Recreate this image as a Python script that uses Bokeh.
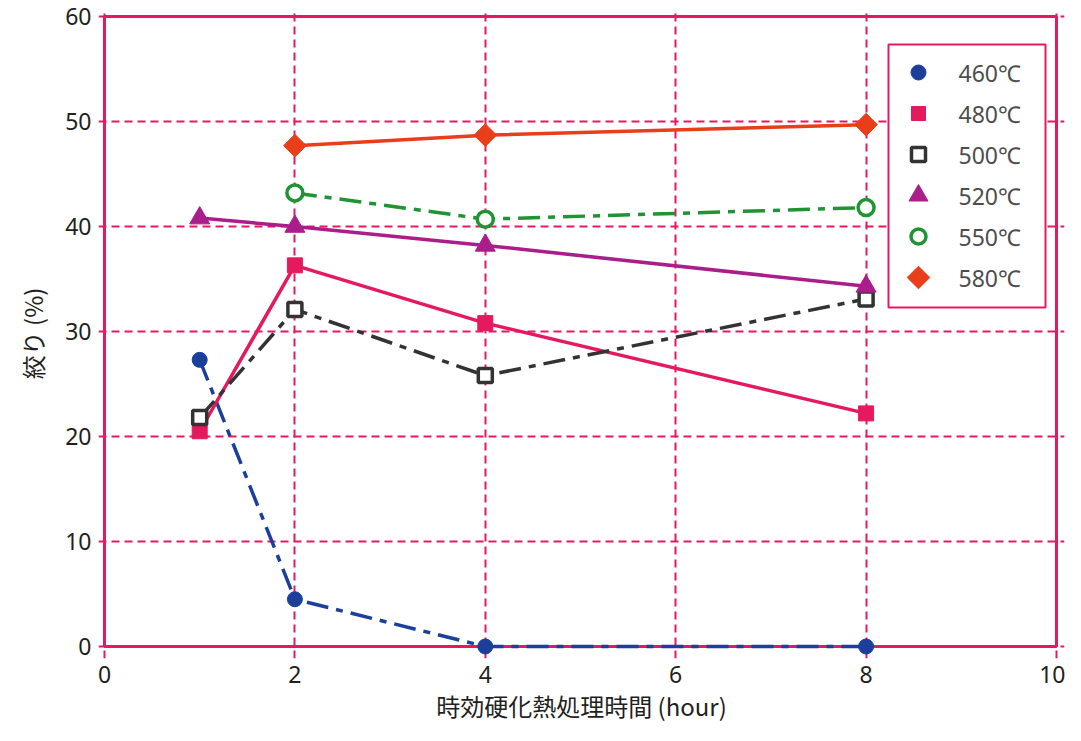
import numpy as np
from bokeh.plotting import figure
from bokeh.models import FixedTicker, Range1d
from bokeh.core.properties import value
from bokeh.embed import file_html
from bokeh.resources import INLINE

# data
series_names = ["460℃", "480℃", "500℃", "520℃", "550℃", "580℃"]
x_460 = [1, 2, 4, 8]
y_460 = [27.3, 4.5, 0.0, 0.0]
x_480 = [1, 2, 4, 8]
y_480 = [20.5, 36.3, 30.8, 22.2]
x_500 = [1, 2, 4, 8]
y_500 = [21.8, 32.1, 25.8, 33.1]
x_520 = [1, 2, 4, 8]
y_520 = [40.8, 40.0, 38.2, 34.3]
x_550 = [2, 4, 8]
y_550 = [43.2, 40.7, 41.8]
x_580 = [2, 4, 8]
y_580 = [47.7, 48.7, 49.7]
x_ticks = [0, 2, 4, 6, 8, 10]
y_ticks = [0, 10, 20, 30, 40, 50, 60]
x_title = "時効硬化熱処理時間 (hour)"
y_title = "絞り (%)"

CRIMSON = "#e5195e"
TXT = "#231f20"

# layout (pixels)
W, H = 1065, 725
BOX_L, BOX_R, BOX_T, BOX_B = 104, 1056, 16, 646
PAD_L, PAD_R, PAD_T, PAD_B = 6, 8, 8, 12
XMIN, XMAX = x_ticks[0], x_ticks[-1]
YMIN, YMAX = y_ticks[0], y_ticks[-1]
sx = (BOX_R - BOX_L) / (XMAX - XMIN)
sy = (BOX_B - BOX_T) / (YMAX - YMIN)
FL, FT = BOX_L - PAD_L, BOX_T - PAD_T
FR, FB = BOX_R + PAD_R, BOX_B + PAD_B

p = figure(width=W, height=H, output_backend="svg", toolbar_location=None,
           x_range=Range1d(XMIN - PAD_L / sx, XMAX + PAD_R / sx),
           y_range=Range1d(YMIN - PAD_B / sy, YMAX + PAD_T / sy),
           min_border_left=FL, min_border_right=W - FR,
           min_border_top=FT, min_border_bottom=H - FB)
p.background_fill_color = "white"
p.border_fill_color = "white"
p.outline_line_color = None

# pixel ranges (page pixel coordinates) for the legend
p.extra_x_ranges = {"px": Range1d(FL, FR)}
p.extra_y_ranges = {"py": Range1d(FB, FT)}

for ax in (p.xaxis[0], p.yaxis[0]):
    ax.axis_line_color = None
    ax.major_tick_line_color = None
    ax.minor_tick_line_color = None
    ax.major_label_text_font = "Noto Sans"
    ax.major_label_text_font_size = "23px"
    ax.major_label_text_color = TXT
    ax.axis_label_text_font = "Noto Sans CJK JP"
    ax.axis_label_text_font_size = "24px"
    ax.axis_label_text_font_style = "normal"
    ax.axis_label_text_color = TXT

p.xaxis.ticker = FixedTicker(ticks=x_ticks)
p.yaxis.ticker = FixedTicker(ticks=y_ticks)
p.xaxis.major_label_standoff = 1
p.yaxis.major_label_standoff = 1
p.xaxis.axis_label = x_title
p.yaxis.axis_label = y_title
p.xaxis.axis_label_standoff = 2
p.yaxis.axis_label_standoff = 12

p.xgrid.ticker = FixedTicker(ticks=x_ticks)
p.ygrid.ticker = FixedTicker(ticks=y_ticks)
p.xgrid.bounds = (YMIN, YMAX)
p.ygrid.bounds = (XMIN, XMAX)
for g in (p.xgrid[0], p.ygrid[0]):
    g.grid_line_color = CRIMSON
    g.grid_line_width = 2
    g.grid_line_dash = "8 5"

# plot box
p.quad(left=XMIN, right=XMAX, bottom=YMIN, top=YMAX, fill_color=None,
       line_color=CRIMSON, line_width=3)

DASHDOT = "22 8 7 8"
# (x, y, colour, dash, marker, size, filled, angle, legend size)
specs = [
    (x_460, y_460, "#1b3f9b", DASHDOT, "circle", 15, True, 0, 15),
    (x_480, y_480, CRIMSON, "solid", "square", 15, True, 0, 14),
    (x_500, y_500, "#333333", DASHDOT, "square", 14, False, 0, 14),
    (x_520, y_520, "#aa1e8c", "solid", "triangle", 20, True, 0, 19),
    (x_550, y_550, "#1f9433", DASHDOT, "circle", 16, False, 0, 15),
    (x_580, y_580, "#e83e1a", "solid", "square", 16, True, np.pi / 4, 16),
]

for xs, ys, col, dash, marker, size, filled, ang, _ in specs:
    p.line(xs, ys, line_color=col, line_width=3.5, line_dash=dash)
    p.scatter(xs, ys, marker=marker, size=size, angle=ang, line_color=col,
              line_width=3.5 if not filled else 1,
              fill_color=col if filled else "white")

# legend (page pixel coordinates)
LX0, LX1, LY0, ROW, N = 888, 1045, 44, 41, len(series_names)
p.quad(left=LX0, right=LX1, top=LY0, bottom=LY0 + ROW * N + 17,
       fill_color="white", line_color=CRIMSON, line_width=2,
       x_range_name="px", y_range_name="py")
for i, (name, spec) in enumerate(zip(series_names, specs)):
    col, marker, filled, ang, lsize = spec[2], spec[4], spec[6], spec[7], spec[8]
    ry = LY0 + 28 + ROW * i
    p.scatter([LX0 + 30], [ry], marker=marker, size=lsize, angle=ang, line_color=col,
              line_width=3.5 if not filled else 1, fill_color=col if filled else "white",
              x_range_name="px", y_range_name="py")
    p.text([LX0 + 70], [ry], text=[name], text_font=value("Noto Sans"),
           text_font_size="23px", text_color="#4d4d4d", text_baseline="middle",
           text_align="left", x_range_name="px", y_range_name="py")

open("out.html", "w").write(file_html(p, INLINE))
